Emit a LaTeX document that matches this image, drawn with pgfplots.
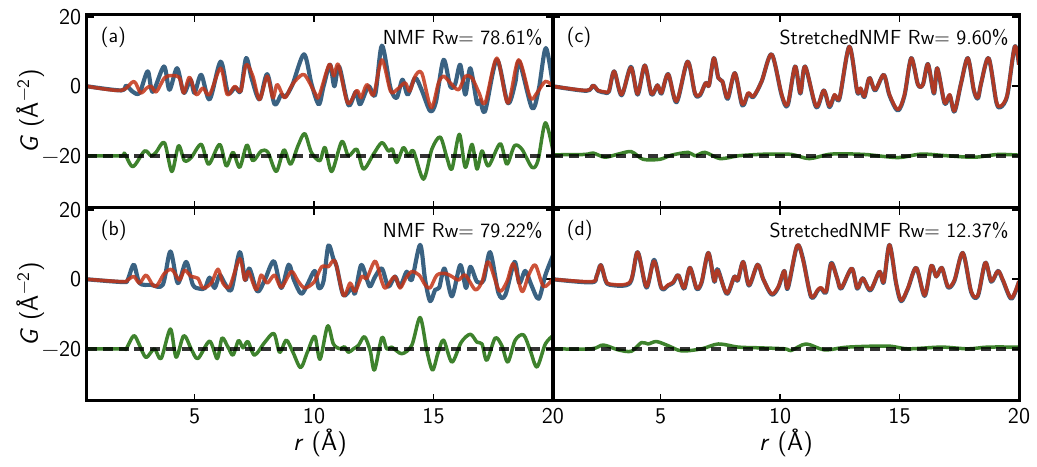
\documentclass[border=0pt]{standalone}
\usepackage{fontspec}
\usepackage{pgfplots}
\pgfplotsset{compat=1.18}
\definecolor{cblue}{RGB}{58,98,130}
\definecolor{cred}{RGB}{195,52,22}
\definecolor{cgreen}{RGB}{62,130,45}
\newcommand{\lab}{\fontsize{12.2}{14}\selectfont}
\newcommand{\tlab}{\fontsize{13.5}{15}\selectfont}
\pgfplotsset{
 panel/.style={
  scale only axis, width=279.6pt, height=115.8pt,
  xmin=0.5, xmax=20, ymin=-35, ymax=20.5,
  xtick={5,10,15,20}, ytick={-20,0,20},
  xticklabels={5,10,15,20}, yticklabels={−20,0,20},
  tick align=inside, major tick length=4pt,
  tick style={black, line width=1pt},
  every tick label/.append style={font=\sffamily\tlab},
  xticklabel style={yshift=-1pt},
  every axis x label/.style={at={(axis description cs:0.5,-0.215)}, anchor=center, font=\sffamily\fontsize{15}{17}\selectfont},
  every axis y label/.style={at={(axis description cs:-0.122,0.5)}, rotate=90, anchor=center, font=\sffamily\fontsize{15}{17}\selectfont},
  after end axis/.code={\draw[line width=1.8pt] (rel axis cs:0,0) rectangle (rel axis cs:1,1);},
 },
 bl/.style={color=cblue, line width=2.5pt, smooth, tension=0.5, line join=round},
 rd/.style={color=cred, opacity=0.85, line width=2.1pt, smooth, tension=0.5, line join=round},
 gr/.style={color=cgreen, line width=2.1pt, smooth, tension=0.5, line join=round},
 ds/.style={black, opacity=0.8, line width=2pt, dash pattern=on 6pt off 3.5pt},
}
\begin{document}
\begin{tikzpicture}
% (a)
\begin{axis}[panel, at={(0pt,0pt)}, anchor=north west, xticklabels={}, ylabel={\textit{G} (Å\textsuperscript{−2})}]
\addplot[bl] coordinates {(0.5,0)(1.93,-1.2)(2.14,0.2)(2.42,-1.6)(2.7,-1.9)(3.04,4.3)(3.25,-1.6)(3.72,5.7)(3.95,-1)(4.27,5.2)(4.55,-1.9)(4.83,1.9)(5.0,-1.9)(5.28,3.3)(5.63,-3.8)(6.09,7.1)(6.4,-1.9)(6.7,-0.3)(6.93,-1.4)(7.16,8.1)(7.4,2.0)(7.72,-3.8)(8.04,3.5)(8.35,-5.2)(8.63,-2.4)(8.8,-3.0)(9.1,0.5)(9.58,9.2)(9.9,0.5)(10.2,-5.2)(10.4,0)(10.67,6.2)(10.85,0)(11.05,5.7)(11.44,-5.4)(11.75,-1.6)(11.93,-5.2)(12.28,0)(12.56,-2.4)(12.84,11.7)(13.2,-0.5)(13.46,-3.3)(13.7,1.9)(13.92,-2.4)(14.23,2.4)(14.5,-1.0)(14.86,-7.1)(15.1,-4.5)(15.42,7.6)(15.7,0)(15.9,0.5)(16.12,6.2)(16.33,-2.4)(16.54,5.2)(16.82,-4.8)(16.95,-4)(17.16,-7.1)(17.65,7.6)(18.11,-4.8)(18.42,1)(18.59,7.1)(19.12,-6.2)(19.4,-1.0)(19.7,11)(20,0)};
\addplot[rd] coordinates {(0.5,0)(1.93,-1.2)(2.46,1.4)(2.74,-1.9)(3.0,-0.5)(3.18,0)(3.4,-1.6)(3.74,2.4)(4.05,3.1)(4.37,2.4)(4.55,-1.9)(4.79,2.6)(5.07,-2.4)(5.35,-0.5)(5.63,-2.4)(6.09,5.2)(6.37,-2.4)(6.68,0)(6.93,-1.4)(7.16,6.2)(7.44,2.9)(7.72,-3.8)(8.04,2.9)(8.28,-3.3)(8.46,0.5)(8.77,-3.3)(9.05,0)(9.26,1.9)(9.6,3.3)(10.03,-1.8)(10.2,-3.0)(10.63,6.2)(10.83,3.0)(11.02,6.2)(11.41,-4.8)(11.79,-1.2)(11.97,-3.3)(12.21,0.5)(12.49,-2.4)(12.84,7.6)(13.2,-1.4)(13.46,-1)(13.81,1)(14.0,-1.4)(14.23,2.9)(14.51,3.8)(14.9,-6.2)(15.21,1)(15.42,2.9)(15.7,1)(16.05,-1)(16.33,2.9)(16.61,2.4)(16.9,-1.8)(17.16,-4.8)(17.65,8.1)(18.11,-4.8)(18.56,7.6)(19.05,-3.3)(19.33,-1.9)(19.68,1.4)(20,0)};
\addplot[gr] coordinates {(0.5,-20)(1.93,-20)(2.07,-19.3)(2.42,-23.1)(2.91,-18.6)(3.18,-20)(3.39,-19.0)(3.74,-16.2)(4.05,-24.5)(4.33,-17.1)(4.58,-21.4)(4.86,-20.5)(5.28,-16.7)(5.59,-22.4)(6.05,-16.7)(6.33,-22.9)(6.61,-19.0)(6.89,-23.3)(7.19,-16.9)(7.44,-21.4)(7.79,-18.6)(8.07,-19.0)(8.42,-24.5)(8.74,-18.3)(9.02,-22.4)(9.33,-17.1)(9.61,-13.6)(9.89,-19.0)(10.24,-21.4)(10.46,-17.6)(10.74,-24.5)(11.16,-15.9)(11.44,-20.0)(11.79,-18.1)(12.07,-23.8)(12.49,-19.5)(12.84,-16.2)(13.11,-18.6)(13.28,-18.1)(13.46,-21.9)(13.74,-17.6)(13.95,-20.0)(14.16,-18.6)(14.58,-26.7)(14.93,-18.1)(15.28,-14.6)(15.56,-20.5)(15.77,-23.8)(16.08,-13.8)(16.33,-23.3)(16.61,-16.7)(16.82,-23.8)(17.03,-18.6)(17.3,-22.9)(17.79,-16.5)(18.07,-22.4)(18.39,-17.1)(18.7,-18.1)(19.12,-23.3)(19.37,-21.4)(19.68,-10.5)(20,-18.6)};
\addplot[ds] coordinates {(0.5,-20)(20,-20)};
\node[anchor=west, font=\sffamily\lab] at (rel axis cs:0.017,0.886) {(a)};
\node[anchor=east, font=\sffamily\lab] at (rel axis cs:0.99,0.886) {NMF Rw= 78.61\%};
\end{axis}
% (b)
\begin{axis}[panel, at={(0pt,-115.8pt)}, anchor=north west, xlabel={\textit{r} (Å)}, ylabel={\textit{G} (Å\textsuperscript{−2})}]
\addplot[bl] coordinates {(0.5,0)(2.0,-0.8)(2.2,-0.2)(2.46,4.2)(2.7,-1.1)(3.18,-1.6)(3.67,-1.6)(3.99,8.0)(4.3,-1.1)(4.65,5.0)(4.93,-1.6)(5.21,-2.7)(5.44,-2.5)(5.63,0.5)(5.84,-2.5)(6.05,1.2)(6.26,-1.1)(6.54,-3.0)(6.89,7.8)(7.12,-0.2)(7.3,3.1)(7.63,-3.5)(7.94,-0.2)(8.32,5.2)(8.63,-2.5)(8.94,4.2)(9.16,-0.2)(9.47,-4.2)(9.75,-1.1)(10.03,2.4)(10.2,-2.5)(10.4,-0.5)(10.6,9.7)(10.81,5.9)(10.95,3.6)(11.23,-4.6)(11.58,-2.5)(11.72,-4.0)(11.97,4.1)(12.21,0)(12.35,-2.1)(12.56,0.8)(12.84,3.1)(13.11,-2.1)(13.39,0.8)(13.6,-2.1)(13.88,2.2)(14.09,-0.2)(14.44,9.9)(14.65,-0.2)(14.86,-6.3)(15.07,-3.0)(15.24,-2.4)(15.46,3.1)(15.77,-4.9)(16.12,4.1)(16.36,-2.5)(16.54,3.6)(16.82,-0.7)(17.1,-0.2)(17.37,7.8)(17.72,-4.0)(18.0,-4.6)(18.39,5.0)(18.59,-1.1)(18.84,2.4)(19.09,-1.6)(19.4,-5.6)(19.68,1.2)(20,6.9)};
\addplot[rd] coordinates {(0.5,0)(2.0,-0.7)(2.2,-0.2)(2.46,0.8)(2.7,-1.1)(2.97,1.2)(3.25,-1.6)(3.43,-1.8)(3.74,1.7)(4.05,2.8)(4.37,-0.2)(4.58,2.6)(4.86,0.8)(5.14,0.3)(5.35,-2.5)(5.7,-1.1)(5.98,2.9)(6.19,-1.1)(6.47,-2.1)(6.89,5.9)(7.1,-0.2)(7.26,2.2)(7.58,-3.0)(7.79,1.2)(8.04,-1.1)(8.35,1.2)(8.63,-2.3)(9.05,2.2)(9.33,-0.5)(9.61,-2.5)(10.0,-0.8)(10.32,3.6)(10.6,3.6)(10.88,5.2)(11.23,-4.6)(11.51,-1.1)(11.72,-3.5)(12.0,0.8)(12.21,0.3)(12.56,5.2)(12.84,-0.7)(13.0,-2.5)(13.37,0.8)(13.6,-2.5)(13.84,0.3)(14.09,2.2)(14.4,1.2)(14.65,-1.6)(14.86,-2.5)(15.14,1.2)(15.49,1.7)(15.77,0.8)(16.05,-0.2)(16.33,1.2)(16.75,-3.0)(17.03,-0.7)(17.3,5.0)(17.75,-3.3)(18.07,-0.7)(18.35,4.5)(18.7,-3.5)(18.98,1.2)(19.26,4.1)(19.61,-2.1)(20,0.3)};
\addplot[gr] coordinates {(0.5,-20)(2.0,-20)(2.14,-20)(2.46,-16.2)(2.7,-19.0)(2.97,-22.5)(3.32,-20)(3.6,-22.8)(3.99,-14.3)(4.23,-22.4)(4.55,-16.2)(4.86,-20)(5.14,-22.8)(5.63,-17.8)(5.95,-22.8)(6.15,-16.9)(6.4,-19.5)(6.61,-21.8)(6.84,-17.6)(7.03,-19.7)(7.23,-17.9)(7.51,-21.8)(7.93,-18.2)(8.32,-15.6)(8.56,-21.0)(8.84,-17.5)(9.12,-21.0)(9.44,-25.4)(9.72,-21.0)(10.03,-16.4)(10.25,-23.0)(10.57,-13.4)(10.81,-18.6)(11.09,-20)(11.27,-19.4)(11.44,-21.0)(11.65,-20)(11.86,-19.0)(12.11,-16.5)(12.35,-20.5)(12.53,-26.1)(12.84,-16.7)(13.04,-20)(13.25,-19.5)(13.67,-21.4)(14.09,-19.0)(14.44,-11.0)(14.72,-20.5)(14.96,-26.1)(15.18,-21.4)(15.42,-17.5)(15.77,-23.8)(16.16,-18.1)(16.54,-15.8)(16.82,-18.1)(17.03,-18.6)(17.23,-23.3)(17.58,-16.9)(17.86,-19.1)(18.11,-23.8)(18.42,-17.5)(18.77,-16.0)(19.05,-20.5)(19.33,-25.2)(19.68,-18.6)(20,-16.2)};
\addplot[ds] coordinates {(0.5,-20)(20,-20)};
\node[anchor=west, font=\sffamily\lab] at (rel axis cs:0.017,0.886) {(b)};
\node[anchor=east, font=\sffamily\lab] at (rel axis cs:0.99,0.886) {NMF Rw= 79.22\%};
\end{axis}
% (c)
\begin{axis}[panel, at={(279.6pt,0pt)}, anchor=north west, xticklabels={}, yticklabels={}]
\addplot[bl] coordinates {(0.5,0)(1.9,-1.3)(2.18,0.2)(2.39,-1.3)(2.67,-1.8)(2.84,-1.5)(3.06,4.3)(3.37,-2.6)(3.76,5.6)(4.04,-2.4)(4.34,6.0)(4.62,-2.4)(4.87,0.3)(5.04,-2.1)(5.32,3.5)(5.67,-4.6)(6.13,7.1)(6.44,-2.1)(6.65,-2.6)(6.89,1.0)(7.03,0.3)(7.23,8.1)(7.42,2.4)(7.59,1.4)(7.81,-3.6)(8.11,3.8)(8.42,-5.5)(8.67,-2.1)(8.88,-3.1)(9.23,1.4)(9.65,9.2)(10.07,-2.6)(10.32,-5.5)(10.63,5.7)(10.85,-2.1)(11.05,5.7)(11.51,-6.0)(11.83,-1.2)(12.07,-6.0)(12.28,-2.6)(12.49,-3.5)(12.9,11.4)(13.23,-1.6)(13.37,-0.7)(13.53,-3.1)(13.74,2.4)(13.98,-1.2)(14.34,3.3)(14.58,-2.6)(14.93,-7.0)(15.21,-2.6)(15.49,8.1)(15.77,0.5)(15.98,0.5)(16.19,6.4)(16.44,-2.1)(16.58,5.2)(16.89,-5.0)(17.1,-2.6)(17.3,-7.3)(17.58,1.0)(17.86,8.1)(18.11,-1.2)(18.28,-3.5)(18.42,1.0)(18.73,8.1)(19.05,-4.5)(19.23,-6.0)(19.51,-2.6)(19.82,11.4)(20,6.2)};
\addplot[rd] coordinates {(0.5,0)(1.9,-1.2)(2.18,0.2)(2.39,-1.2)(2.67,-1.6)(2.84,-1.4)(3.06,4.3)(3.37,-2.4)(3.76,5.4)(4.04,-2.2)(4.34,6.0)(4.62,-2.2)(4.87,0.3)(5.04,-1.9)(5.32,3.5)(5.67,-4.3)(6.13,7.1)(6.44,-1.9)(6.65,-2.4)(6.89,1.0)(7.03,0.3)(7.23,8.1)(7.42,2.4)(7.59,1.4)(7.81,-3.3)(8.11,3.8)(8.42,-5.2)(8.67,-1.9)(8.88,-2.9)(9.23,1.4)(9.65,9.2)(10.07,-2.4)(10.32,-5.2)(10.63,5.7)(10.85,-1.9)(11.05,5.7)(11.51,-5.7)(11.83,-1.2)(12.07,-5.7)(12.28,-2.4)(12.49,-3.3)(12.9,11.4)(13.23,-1.4)(13.37,-0.5)(13.53,-2.9)(13.74,2.4)(13.98,-1.0)(14.34,3.3)(14.58,-2.4)(14.93,-6.7)(15.21,-2.4)(15.49,8.1)(15.77,0.5)(15.98,0.5)(16.19,6.4)(16.44,-1.9)(16.58,5.2)(16.89,-4.8)(17.1,-2.4)(17.3,-7.1)(17.58,1.0)(17.86,8.1)(18.11,-1.0)(18.28,-3.3)(18.42,1.0)(18.73,8.1)(19.05,-4.3)(19.23,-5.7)(19.51,-2.4)(19.82,11.4)(20,6.2)};
\addplot[gr] coordinates {(0.5,-19.7)(1.83,-19.6)(2.18,-19.2)(2.67,-20.4)(3.23,-19.5)(3.78,-18.8)(4.27,-21.0)(4.97,-21.0)(5.46,-19.8)(6.16,-19.0)(6.44,-20.0)(6.86,-19.0)(7.49,-20.8)(8.25,-20)(9.09,-19.6)(9.65,-19.5)(10.49,-19.6)(11.23,-20.8)(12.14,-19.5)(13.53,-19.6)(14.93,-20.5)(15.91,-19.5)(17.03,-20)(18.14,-20.4)(19.12,-19.6)(20,-19.8)};
\addplot[ds] coordinates {(0.5,-20)(20,-20)};
\node[anchor=west, font=\sffamily\lab] at (rel axis cs:0.017,0.886) {(c)};
\node[anchor=east, font=\sffamily\lab] at (rel axis cs:0.99,0.886) {StretchedNMF Rw= 9.60\%};
\end{axis}
% (d)
\begin{axis}[panel, at={(279.6pt,-115.8pt)}, anchor=north west, yticklabels={}, xlabel={\textit{r} (Å)}]
\addplot[bl] coordinates {(0.5,0)(2.11,-0.9)(2.32,0.8)(2.5,4.1)(2.7,-0.4)(2.88,-1.6)(3.72,-1.1)(4.04,7.8)(4.41,-2.4)(4.73,5.6)(5.04,-2.6)(5.32,-1.8)(5.53,-1.0)(5.74,1.2)(5.99,-2.7)(6.23,3.3)(6.51,-2.7)(6.72,-0.9)(7.0,7.6)(7.25,-0.7)(7.39,2.9)(7.77,-4.2)(8.09,0.8)(8.23,-0.4)(8.46,5.0)(8.7,-1.8)(9.06,4.2)(9.3,0)(9.65,-4.4)(9.93,-2.3)(10.18,2.4)(10.32,-2.7)(10.71,9.5)(10.95,6.2)(11.3,-5.1)(11.58,-3.2)(11.72,-2.6)(11.93,-3.7)(12.14,4.7)(12.39,0.3)(12.56,-2.7)(13.0,3.1)(13.23,-2.7)(13.46,0.3)(13.78,-3.2)(14.16,2.2)(14.34,-0.9)(14.58,9.9)(14.86,-1.3)(15.07,-6.3)(15.35,-2.7)(15.7,3.3)(16.05,-4.8)(16.33,3.9)(16.54,0.8)(16.77,3.3)(17.03,-2.3)(17.3,-0.4)(17.65,7.6)(18.0,-3.7)(18.28,-4.8)(18.59,4.8)(18.84,-0.7)(19.12,2.4)(19.33,-0.4)(19.68,-5.6)(20,-0.7)};
\addplot[rd] coordinates {(0.5,0)(2.11,-0.7)(2.32,0.8)(2.5,4.1)(2.7,-0.2)(2.88,-1.4)(3.72,-0.8)(4.04,7.8)(4.41,-2.1)(4.73,5.2)(5.04,-2.4)(5.32,-1.6)(5.53,-0.8)(5.74,1.2)(5.99,-2.5)(6.23,3.3)(6.51,-2.5)(6.72,-0.7)(7.0,7.6)(7.25,-0.5)(7.39,2.6)(7.77,-4.0)(8.09,0.8)(8.23,-0.2)(8.46,5.0)(8.7,-1.6)(9.06,4.2)(9.3,0)(9.65,-4.2)(9.93,-2.1)(10.18,2.4)(10.32,-2.5)(10.71,9.7)(10.95,5.9)(11.3,-4.9)(11.58,-3.0)(11.72,-2.4)(11.93,-3.5)(12.14,4.5)(12.39,0.3)(12.56,-2.5)(13.0,3.1)(13.23,-2.5)(13.46,0.3)(13.78,-3.0)(14.16,2.2)(14.34,-0.7)(14.58,9.9)(14.86,-1.1)(15.07,-6.1)(15.35,-2.5)(15.7,3.3)(16.05,-4.6)(16.33,3.9)(16.54,0.8)(16.77,3.3)(17.03,-2.1)(17.3,-0.2)(17.65,7.6)(18.0,-3.5)(18.28,-4.6)(18.59,4.8)(18.84,-0.5)(19.12,2.4)(19.33,-0.2)(19.68,-5.4)(20,-0.5)};
\addplot[gr] coordinates {(0.5,-20)(2.11,-20.0)(2.6,-18.9)(3.23,-20.3)(3.78,-20.7)(4.2,-18.2)(4.48,-18.6)(4.83,-17.9)(5.32,-19.1)(5.88,-20.6)(6.72,-20.0)(7.42,-18.6)(8.25,-19.5)(9.09,-19.7)(10.21,-20)(10.46,-20.5)(11.09,-18.6)(11.86,-20.3)(12.84,-19.5)(14.51,-19.2)(15.35,-20)(16.75,-19.5)(17.86,-20)(18.7,-19.5)(20,-19.5)};
\addplot[ds] coordinates {(0.5,-20)(20,-20)};
\node[anchor=west, font=\sffamily\lab] at (rel axis cs:0.017,0.886) {(d)};
\node[anchor=east, font=\sffamily\lab] at (rel axis cs:0.99,0.886) {StretchedNMF Rw= 12.37\%};
\end{axis}
\pgfresetboundingbox
\path[use as bounding box] (-52.2pt,9pt) rectangle (570pt,-271.2pt);
\end{tikzpicture}
\end{document}
